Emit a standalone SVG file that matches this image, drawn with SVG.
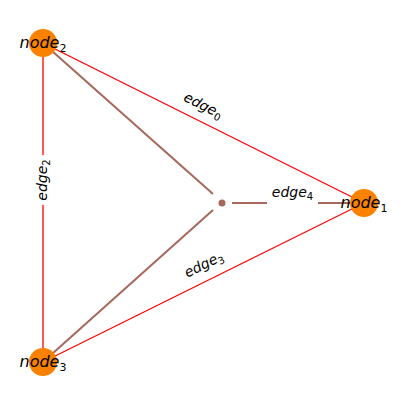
<svg xmlns="http://www.w3.org/2000/svg" width="407" height="405" viewBox="0 0 407 405">
<style>
.red{stroke:#ff0000;stroke-width:1.3;fill:none}
.brown{stroke:#a7675a;stroke-width:2;fill:none}
.node{fill:#fb8200}
.nl{font-family:"DejaVu Sans",sans-serif;font-size:16px;font-style:italic;fill:#000;text-anchor:middle}
.el{font-family:"DejaVu Sans",sans-serif;font-size:14px;font-style:italic;fill:#000;text-anchor:middle}
.sub{font-style:normal}
.bg{fill:#fff}
</style>
<rect width="407" height="405" fill="#fff"/>
<g id="connectors">
<line class="red" x1="43" y1="43" x2="364" y2="203"/>
<line class="red" x1="43" y1="43" x2="43" y2="362"/>
<line class="red" x1="43" y1="362" x2="364" y2="203"/>
<line class="brown" x1="43" y1="43" x2="213" y2="194"/>
<line class="brown" x1="43" y1="362" x2="213" y2="210"/>
<line class="brown" x1="232" y1="203" x2="364" y2="203"/>
<circle cx="222" cy="203" r="3.5" fill="#a7675a"/>
<g id="edge0-label" transform="translate(203,106) rotate(26.5)">
<text class="el" x="0" y="4">edge<tspan class="sub" font-size="10" dy="3">0</tspan></text>
</g>
<g id="edge3-label" transform="translate(204,265) rotate(-26.5)">
<text class="el" x="0" y="4">edge<tspan class="sub" font-size="10" dy="3">3</tspan></text>
</g>
<g id="edge2-label" transform="translate(43,180) rotate(-90)">
<rect class="bg" x="-25" y="-10" width="50" height="20"/>
<text class="el" x="0" y="4">edge<tspan class="sub" font-size="10" dy="3">2</tspan></text>
</g>
<g id="edge4-label" transform="translate(292.5,196)">
<rect class="bg" x="-25.5" y="-12" width="51" height="20"/>
<text class="el" x="0" y="1">edge<tspan class="sub" font-size="10" dy="3">4</tspan></text>
</g>
</g>
<g id="node1">
<circle class="node" cx="364" cy="203" r="14"/>
<text class="nl" x="364" y="208">node<tspan class="sub" font-size="11" dy="4">1</tspan></text>
</g>
<g id="node2">
<circle class="node" cx="43" cy="43" r="14"/>
<text class="nl" x="43" y="48">node<tspan class="sub" font-size="11" dy="4">2</tspan></text>
</g>
<g id="node3">
<circle class="node" cx="43" cy="362" r="14"/>
<text class="nl" x="43" y="367">node<tspan class="sub" font-size="11" dy="4">3</tspan></text>
</g>
</svg>
